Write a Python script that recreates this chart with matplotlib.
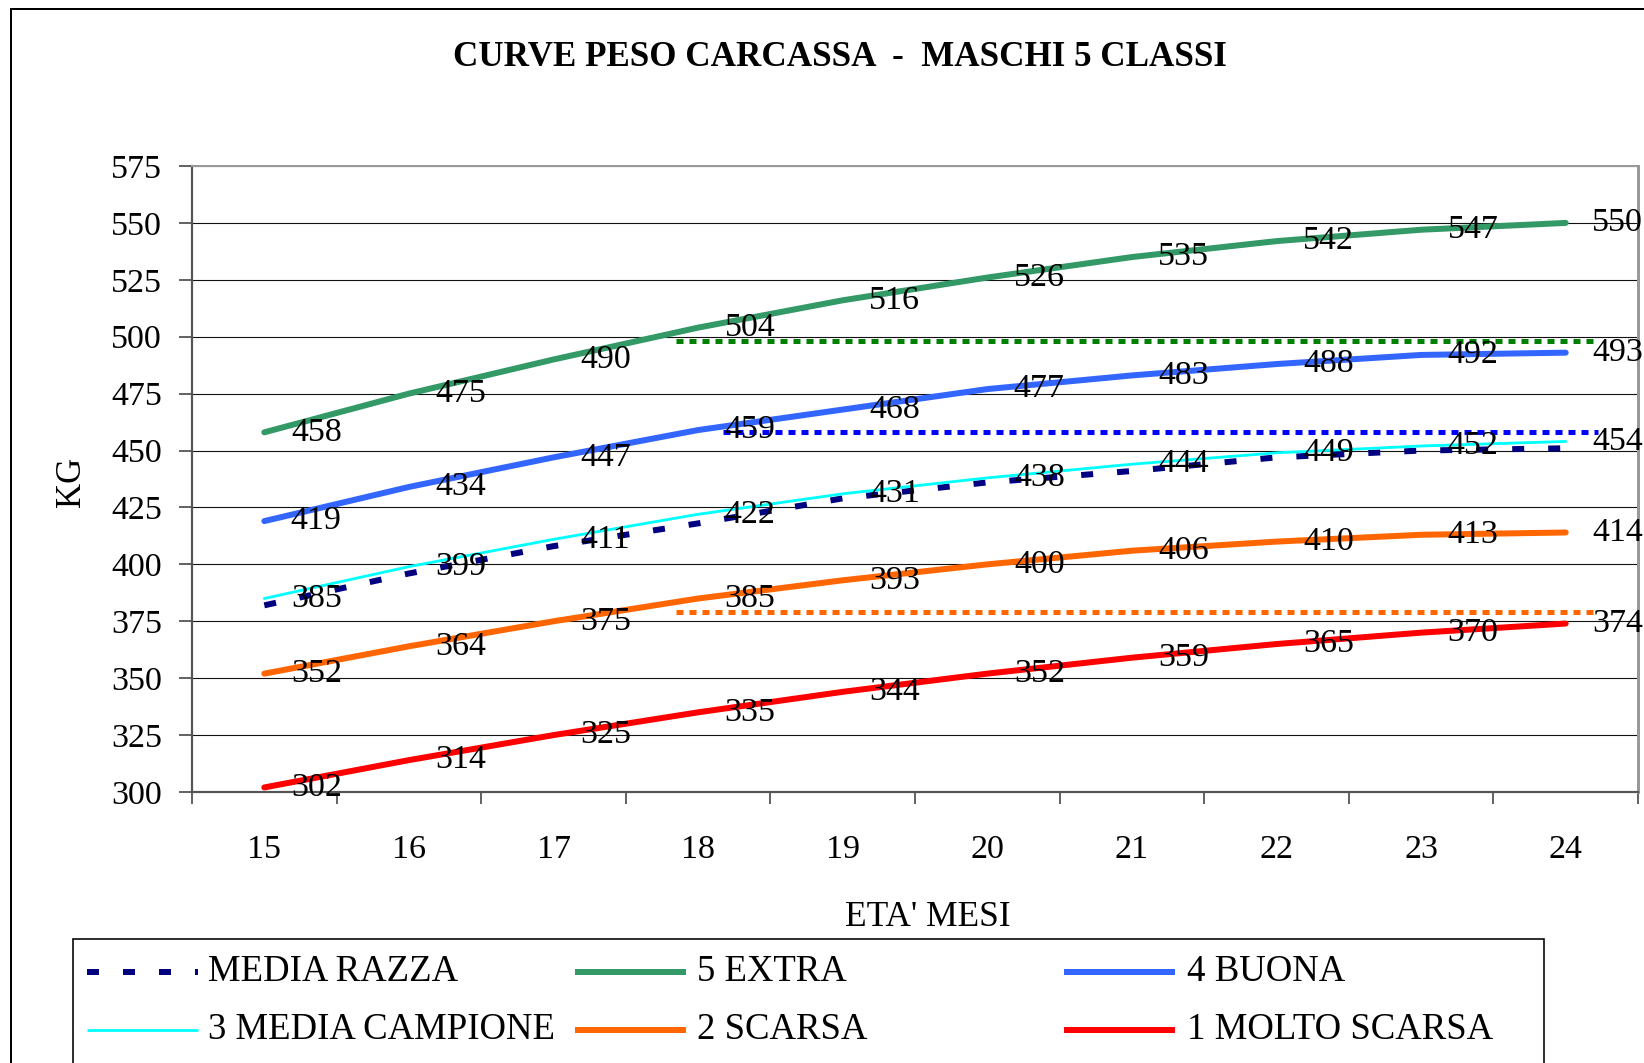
import numpy as np
import matplotlib
matplotlib.use("Agg")
import matplotlib.pyplot as plt
from matplotlib.lines import Line2D
from matplotlib.patches import Rectangle

# ---------------- data ----------------
months = [15, 16, 17, 18, 19, 20, 21, 22, 23, 24]
media_razza = [382, 396, 408, 418, 429, 436, 441, 447, 450, 451]
extra = [458, 475, 490, 504, 516, 526, 535, 542, 547, 550]
buona = [419, 434, 447, 459, 468, 477, 483, 488, 492, 493]
media_campione = [385, 399, 411, 422, 431, 438, 444, 449, 452, 454]
scarsa = [352, 364, 375, 385, 393, 400, 406, 410, 413, 414]
molto_scarsa = [302, 314, 325, 335, 344, 352, 359, 365, 370, 374]

# horizontal dotted reference levels (kg) and their extent (category index)
ref_levels = [498, 458, 379]
ref_start = [2.85, 3.17, 2.85]
ref_end = [9.22, 9.22, 9.22]

y_ticks = [300, 325, 350, 375, 400, 425, 450, 475, 500, 525, 550, 575]

series_names = ["MEDIA RAZZA", "5 EXTRA", "4 BUONA", "3 MEDIA CAMPIONE",
                "2 SCARSA", "1 MOLTO SCARSA"]

# ---------------- style ----------------
W, H = 1644, 1063
PX = 72.0 / 100.0  # points per pixel
FONT = "Liberation Serif"
plt.rcParams["font.family"] = [FONT, "DejaVu Serif"]

C_RAZZA = "#000080"
C_EXTRA = "#339966"
C_BUONA = "#3366FF"
C_CAMP = "#00FFFF"
C_SCARSA = "#FF6600"
C_MOLTO = "#FF0000"
ref_colors = ["#008000", "#0000FF", "#FF6600"]

LW = 6 * PX
razza_style = dict(color=C_RAZZA, lw=LW, dashes=(2.0, 4.0), dash_capstyle="butt")
solid_styles = [
    dict(color=C_EXTRA, lw=LW, solid_capstyle="round"),
    dict(color=C_BUONA, lw=LW, solid_capstyle="round"),
    dict(color=C_CAMP, lw=2.8 * PX, solid_capstyle="round"),
    dict(color=C_SCARSA, lw=LW, solid_capstyle="round"),
    dict(color=C_MOLTO, lw=LW, solid_capstyle="round"),
]
solid_data = [extra, buona, media_campione, scarsa, molto_scarsa]

fig = plt.figure(figsize=(W / 100, H / 100), dpi=100)
fig.patch.set_facecolor("white")

def fx(px):
    return px / W

def fy(py):
    return 1 - py / H

ax = fig.add_axes([fx(192), fy(792), (1638 - 192) / W, (792 - 166) / H])
x = np.arange(len(months))

# grid
ax.set_axisbelow(True)
ax.yaxis.grid(True, color="#111111", lw=1.1 * PX)

# reference dotted lines
for lev, x0, x1, c in zip(ref_levels, ref_start, ref_end, ref_colors):
    ax.hlines(lev, x0, x1, colors=c, lw=5 * PX, linestyles=(0, (1.4, 1.2)), zorder=3)

# series
ax.plot(x, media_razza, zorder=4, **razza_style)
for vals, st in zip(solid_data, solid_styles):
    ax.plot(x, vals, zorder=5, **st)
    for i, v in enumerate(vals):
        ax.annotate(str(v), xy=(x[i], v), xytext=(52 * PX, 0),
                    textcoords="offset points", ha="center", va="center",
                    fontsize=24.5, family=FONT, color="black", zorder=6,
                    annotation_clip=False)

ax.set_xlim(-0.5, len(months) - 0.5)
ax.set_ylim(y_ticks[0], y_ticks[-1])

# axes ticks
ax.set_xticks(np.arange(-0.5, len(months), 1.0))
ax.set_xticklabels([])
ax.set_xticks(x, minor=True)
ax.set_xticklabels([str(m) for m in months], minor=True)
ax.tick_params(axis="x", which="major", direction="out", length=12 * PX,
               width=1.5 * PX, color="#333333")
ax.tick_params(axis="x", which="minor", length=0, pad=42 * PX,
               labelsize=24.5)
ax.set_yticks(y_ticks)
ax.set_yticklabels([str(t) for t in y_ticks])
ax.tick_params(axis="y", direction="out", length=13 * PX, width=1.5 * PX,
               color="#333333", pad=17 * PX, labelsize=24.5)

for s in ["left", "bottom"]:
    ax.spines[s].set_color("#555555")
    ax.spines[s].set_linewidth(2.2 * PX)
ax.spines["top"].set_color("#999999")
ax.spines["top"].set_linewidth(2 * PX)
ax.spines["right"].set_color("#999999")
ax.spines["right"].set_linewidth(3 * PX)

# titles / axis labels
fig.text(fx(840), fy(57), "CURVE PESO CARCASSA  -  MASCHI 5 CLASSI",
         ha="center", va="center", fontsize=25.2, weight="bold", family=FONT)
fig.text(fx(71), fy(482), "KG", rotation=90, ha="center", va="center",
         fontsize=25, family=FONT)
fig.text(fx(928), fy(918), "ETA' MESI", ha="center", va="center",
         fontsize=25.5, family=FONT)

# outer chart border
fig.add_artist(Rectangle((fx(11), -0.1), 2.0, fy(9) + 0.1, transform=fig.transFigure,
                         fill=False, ec="black", lw=2 * PX))

# legend box (manual, Excel-like even columns)
fig.add_artist(Rectangle((fx(73), fy(1100)), (1544 - 73) / W, (1100 - 939) / H,
                         transform=fig.transFigure, fill=False, ec="black",
                         lw=1.6 * PX))
leg_styles = [razza_style] + solid_styles
col_handle_x = [87, 575, 1064]
col_text_x = [208, 697, 1187]
row_y = [972, 1030]
hlen = 111
for k, (name, st) in enumerate(zip(series_names, leg_styles)):
    r, c = divmod(k, 3)
    yy = fy(row_y[r])
    st2 = dict(st)
    if "solid_capstyle" in st2:
        st2["solid_capstyle"] = "butt"
    fig.add_artist(Line2D([fx(col_handle_x[c]), fx(col_handle_x[c] + hlen)], [yy, yy],
                          transform=fig.transFigure, **st2))
    fig.text(fx(col_text_x[c]), yy, name, ha="left", va="center",
             fontsize=26.5, family=FONT)

fig.savefig("out.png", dpi=100)
